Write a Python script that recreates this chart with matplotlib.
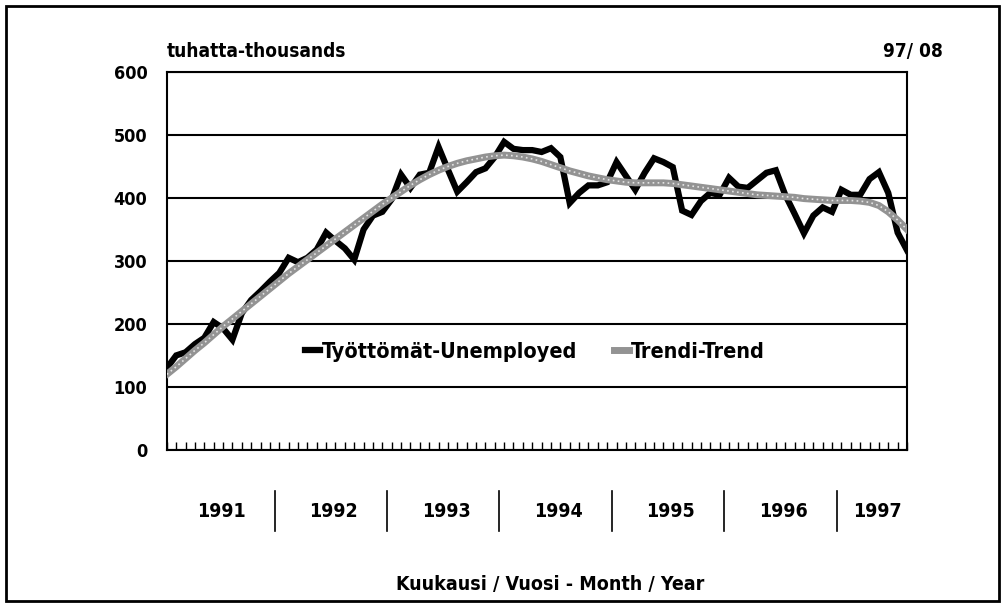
import numpy as np
import matplotlib.pyplot as plt
from matplotlib.patches import Rectangle

# monthly values, Jan 1991 - Aug 1997 (thousands)
unemployed = [130, 150, 155, 168, 178, 203, 193, 175, 217, 238, 252, 267,
              281, 305, 298, 305, 318, 345, 332, 320, 302, 350, 372, 378,
              398, 437, 416, 437, 440, 481, 445, 410, 425, 441, 447, 465,
              489, 478, 476, 476, 473, 479, 465, 392, 408, 420, 420, 425,
              457, 435, 413, 440, 463, 457, 449, 380, 373, 395, 408, 405,
              432, 418, 416, 428, 440, 444, 405, 375, 344, 372, 385, 378,
              413, 405, 405, 430, 441, 408, 345, 317]
trend = [120, 132, 145, 158, 170, 183, 196, 208, 220, 232, 244, 256,
         268, 280, 291, 302, 313, 324, 335, 346, 357, 368, 379, 390,
         400, 410, 420, 429, 437, 444, 450, 455, 459, 462, 465, 467,
         468, 467, 465, 462, 458, 453, 448, 443, 439, 435, 432, 429,
         427, 425, 424, 424, 424, 424, 423, 421, 419, 417, 415, 413,
         411, 409, 407, 405, 404, 403, 402, 401, 399, 398, 397, 396,
         396, 396, 395, 393, 388, 378, 365, 350]
years = ['1991', '1992', '1993', '1994', '1995', '1996', '1997']
months_per_year = [12, 12, 12, 12, 12, 12, 8]
yticks = [0, 100, 200, 300, 400, 500, 600]

plt.rcParams['font.family'] = ['DejaVu Sans']
plt.rcParams['font.stretch'] = 'condensed'
plt.rcParams['font.weight'] = 'bold'

fig = plt.figure(figsize=(10.05, 6.08), dpi=100)
ax = fig.add_axes([0.166, 0.26, 0.7365, 0.6216])

x = np.arange(len(unemployed))
ax.plot(x, unemployed, color='black', lw=4.5, solid_joinstyle='miter',
        label='Työttömät-Unemployed', zorder=3)
ax.plot(x, trend, color='#939393', lw=5, label='Trendi-Trend', zorder=4)
ax.plot(x, trend, color='#e4e4e4', lw=1.2, ls=(0, (1, 2)), zorder=5)

ax.set_xlim(0, len(unemployed) - 1)
ax.set_ylim(0, 600)
ax.set_yticks(yticks)
ax.yaxis.grid(True, color='black', lw=1.5)
ax.set_axisbelow(True)
ax.tick_params(axis='y', length=0, labelsize=13, pad=14)
for lab in ax.get_yticklabels():
    lab.set_fontweight('bold')
ax.set_xticks(x)
ax.set_xticklabels([])
ax.tick_params(axis='x', direction='in', length=6, width=1, color='black')
for s in ax.spines.values():
    s.set_linewidth(1.5)

# year labels and separators below the axis
start = 0
for i, (yr, n) in enumerate(zip(years, months_per_year)):
    mid = start + n / 2 - 0.2
    ax.text(mid, -97, yr, ha='center', va='center', fontsize=14,
            fontweight='bold', clip_on=False)
    if i > 0:
        ax.plot([start - 0.5, start - 0.5], [-65, -128], color='black',
                lw=1.2, clip_on=False)
    start += n

ax.text(40.9, -213, 'Kuukausi / Vuosi - Month / Year', ha='center',
        va='center', fontsize=14, fontweight='bold', clip_on=False)
fig.text(0.166, 0.915, 'tuhatta-thousands', ha='left', va='center',
         fontsize=13.7, fontweight='bold')
fig.text(0.938, 0.915, '97/ 08', ha='right', va='center',
         fontsize=13.7, fontweight='bold')

leg = ax.legend(loc='center', bbox_to_anchor=(0.497, 0.26), ncol=2,
                frameon=False, fontsize=15.5, handlelength=0.7,
                handletextpad=0.1, columnspacing=1.7)
for t in leg.get_texts():
    t.set_fontweight('bold')

fig.patches.append(Rectangle((0.006, 0.012), 0.988, 0.978,
                             transform=fig.transFigure, fill=False,
                             edgecolor='black', lw=2))

fig.savefig('out.png', dpi=100)
